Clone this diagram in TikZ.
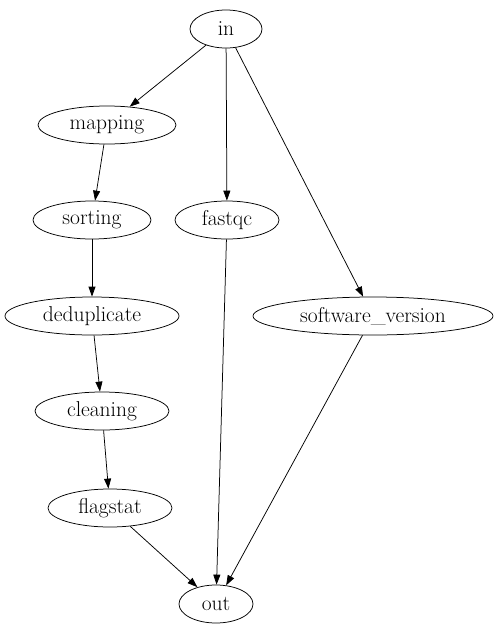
\documentclass[tikz,border=0pt]{standalone}
\usepackage{tikz}
\usetikzlibrary{shapes.geometric,arrows.meta,positioning}

\begin{document}
\begin{tikzpicture}[
    x=1pt, y=-1pt,
    proc/.style={ellipse, draw, line width=0.75pt, inner sep=0pt, minimum height=38pt, font=\fontsize{21.5}{24}\selectfont},
    flow/.style={-{Triangle[length=10pt,width=7pt]}, line width=0.75pt}
]
    \useasboundingbox (0,0) rectangle (498,635);

    \node[proc, minimum width=72pt] (in) at (226, 29) {in};
    \node[proc, minimum width=138pt] (mapping) at (107, 125) {mapping};
    \node[proc, minimum width=118pt] (sorting) at (92, 220) {sorting};
    \node[proc, minimum width=104pt] (fastqc) at (227, 220) {fastqc};
    \node[proc, minimum width=174pt] (dedup) at (92, 316) {deduplicate};
    \node[proc, minimum width=240pt] (swver) at (373, 316) {software\_version};
    \node[proc, minimum width=134pt] (cleaning) at (102, 411) {cleaning};
    \node[proc, minimum width=124pt] (flagstat) at (110, 508) {flagstat};
    \node[proc, minimum width=74pt] (out) at (216, 604) {out};

    \draw[flow] (in) -- (mapping);
    \draw[flow] (in) -- (fastqc);
    \draw[flow] (in) -- (swver);
    \draw[flow] (mapping) -- (sorting);
    \draw[flow] (sorting) -- (dedup);
    \draw[flow] (dedup) -- (cleaning);
    \draw[flow] (cleaning) -- (flagstat);
    \draw[flow] (flagstat) -- (out);
    \draw[flow] (fastqc) -- (out);
    \draw[flow] (swver) -- (out);
\end{tikzpicture}
\end{document}
